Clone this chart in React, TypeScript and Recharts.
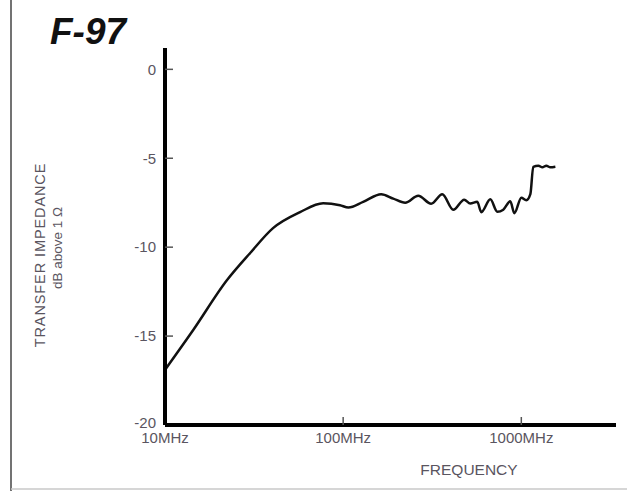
import { LineChart, Line, XAxis, YAxis } from 'recharts';

// frequency in MHz, transfer impedance in dB above 1 ohm
const freqMHz = [
  10, 14.4, 22.3, 30, 40.4, 57.3, 77.2, 96, 107, 129.5, 163.5, 191, 223, 264, 312, 360, 415, 478,
  517, 566, 596, 670, 733, 792, 867, 914, 1000, 1067, 1124, 1167, 1247, 1312, 1381, 1455, 1553,
];
const transferDb = [
  -16.9, -14.66, -11.85, -10.34, -8.93, -8.03, -7.53, -7.64, -7.77, -7.45, -7.02, -7.27, -7.5, -7.11,
  -7.56, -7.03, -7.9, -7.33, -7.54, -7.45, -8.03, -7.31, -8.01, -7.89, -7.42, -8.09, -7.22, -7.36,
  -7.02, -5.48, -5.42, -5.51, -5.42, -5.51, -5.48,
];
const yTicks = [-20, -15, -10, -5, 0];
const xTicks = [10, 100, 1000];
const xTickLabels = ['10MHz', '100MHz', '1000MHz'];

const data = freqMHz.map((f, i) => ({ f, db: transferDb[i] }));

const font = '"Liberation Sans", Arial, sans-serif';
const labelColor = '#5a5560';

function YTick(props: any) {
  const { x, y, payload } = props;
  return (
    <g>
      {payload.value !== -20 && (
        <line x1={x} y1={y} x2={x + 8} y2={y} stroke="#555" strokeWidth={1.5} />
      )}
      <text
        x={x - 9}
        y={payload.value === -20 ? y - 2 : y}
        dy="0.35em"
        textAnchor="end"
        fontSize={15}
        fontFamily={font}
        fill={labelColor}
      >
        {payload.value}
      </text>
    </g>
  );
}

function XTick(props: any) {
  const { x, y, payload } = props;
  const idx = xTicks.indexOf(payload.value);
  return (
    <g>
      {payload.value !== 10 && (
        <line x1={x} y1={y} x2={x} y2={y - 8} stroke="#555" strokeWidth={1.5} />
      )}
      <text x={x} y={y + 18} textAnchor="middle" fontSize={15} fontFamily={font} fill={labelColor}>
        {xTickLabels[idx]}
      </text>
    </g>
  );
}

export default function App() {
  return (
    <div
      style={{
        position: 'absolute',
        left: 0,
        top: 0,
        width: 627,
        height: 491,
        background: '#fff',
        overflow: 'hidden',
      }}
    >
      <LineChart width={627} height={491} data={data} margin={{ top: 48, right: 11, bottom: 36, left: 105 }}>
        <XAxis
          dataKey="f"
          type="number"
          scale="log"
          domain={[10, 3400]}
          ticks={xTicks}
          allowDataOverflow
          height={30}
          tickSize={0}
          tickMargin={0}
          tickLine={false}
          axisLine={{ stroke: '#000', strokeWidth: 4 }}
          tick={<XTick />}
        />
        <YAxis
          type="number"
          domain={[-20, 1.2]}
          ticks={yTicks}
          allowDataOverflow
          width={60}
          tickSize={0}
          tickMargin={0}
          tickLine={false}
          axisLine={{ stroke: '#000', strokeWidth: 4 }}
          tick={<YTick />}
        />
        <Line
          type="monotone"
          dataKey="db"
          stroke="#111"
          strokeWidth={2.5}
          dot={false}
          isAnimationActive={false}
        />
      </LineChart>

      <svg
        width={627}
        height={491}
        style={{ position: 'absolute', left: 0, top: 0, pointerEvents: 'none' }}
      >
        <line x1={11} y1={0} x2={11} y2={491} stroke="#444" strokeWidth={1.5} />
        <line x1={11} y1={489} x2={627} y2={489} stroke="#c8c8c8" strokeWidth={1.5} />
        <text
          x={50}
          y={44}
          fontSize={37}
          fontWeight="bold"
          fontStyle="italic"
          fontFamily={font}
          fill="#111"
        >
          F-97
        </text>
        <text
          transform="translate(45, 255) rotate(-90)"
          textAnchor="middle"
          fontSize={14.5}
          letterSpacing={0.9}
          fontFamily={font}
          fill={labelColor}
        >
          TRANSFER IMPEDANCE
        </text>
        <text
          transform="translate(62, 248) rotate(-90)"
          textAnchor="middle"
          fontSize={13.5}
          fontFamily={font}
          fill={labelColor}
        >
          dB above 1 Ω
        </text>
        <text x={469} y={475} textAnchor="middle" fontSize={15.5} fontFamily={font} fill={labelColor}>
          FREQUENCY
        </text>
      </svg>
    </div>
  );
}
